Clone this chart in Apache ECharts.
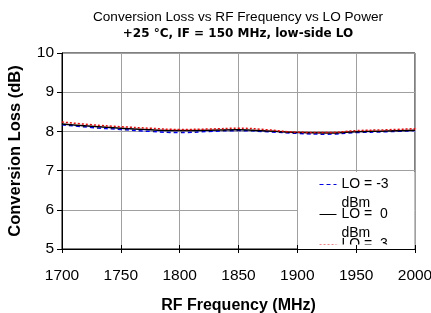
<!DOCTYPE html>
<html>
<head>
<meta charset="utf-8">
<script src="https://cdn.jsdelivr.net/npm/echarts@6/dist/echarts.min.js"></script>
<style>
  html, body { margin: 0; padding: 0; background: #fff; }
  #chart { width: 431px; height: 313px; }
</style>
</head>
<body>
<div id="chart"></div>
<script>
// RF frequency (MHz)
var FREQ = [1700, 1725, 1750, 1775, 1800, 1825, 1850, 1875, 1900, 1925, 1950, 1975, 2000];
// conversion loss (dB) per LO drive
var LO_M3 = [8.17, 8.10, 8.05, 8.00, 7.97, 8.00, 8.02, 7.99, 7.95, 7.93, 7.97, 7.99, 8.02];
var LO_0  = [8.19, 8.13, 8.08, 8.04, 8.02, 8.03, 8.04, 8.01, 7.97, 7.96, 7.99, 8.01, 8.03];
var LO_P3 = [8.24, 8.17, 8.12, 8.08, 8.05, 8.06, 8.08, 8.04, 7.98, 7.97, 8.02, 8.04, 8.07];
var NAMES = ['LO = -3\ndBm', 'LO =  0\ndBm', 'LO =  3\ndBm'];

var FONT = 'Liberation Sans, Arial, sans-serif';

function pairs(vals) {
    return FREQ.map(function (f, i) { return [f, vals[i]]; });
}

var xBase = { type: 'value', min: 1700, max: 2000, interval: 50, position: 'bottom' };

var myChart = echarts.init(document.getElementById('chart'));
var option = {
    backgroundColor: '#fff',
    animation: false,
    title: [{
        text: 'Conversion Loss vs RF Frequency vs LO Power',
        left: 233, top: 5, textAlign: 'center',
        textStyle: { fontFamily: FONT, fontSize: 13.6, fontWeight: 'normal', color: '#000' }
    }, {
        text: '+25 °C, IF = 150 MHz, low-side LO',
        left: 233, top: 23, textAlign: 'center',
        textStyle: { fontFamily: 'DejaVu Sans', fontSize: 12, fontWeight: 'bold', color: '#000' }
    }],
    grid: {
        left: 62, right: 16, top: 53, bottom: 64,
        outerBoundsMode: 'none',
        show: true, borderColor: '#000', borderWidth: 1
    },
    legend: {
        orient: 'vertical',
        left: 314, top: 151,
        itemWidth: 17, itemHeight: 2,
        itemGap: -27,
        data: NAMES,
        itemStyle: { opacity: 0 },
        lineStyle: { width: 1 },
        // leading blank line keeps the first text line level with the icon
        formatter: function (name) { return '\n' + name; },
        textStyle: {
            fontFamily: FONT, fontSize: 14, color: '#000', lineHeight: 19
        }
    },
    graphic: [{
        // legend box background (hides grid lines behind it)
        type: 'rect', z: 1,
        shape: { x: 298, y: 172, width: 116.5, height: 73 },
        style: { fill: '#fff' }
    }, {
        // the legend text runs past its box and is cut there
        type: 'rect', z: 5,
        shape: { x: 298, y: 244.5, width: 116.5, height: 50 },
        style: { fill: '#fff' }
    }],
    xAxis: [Object.assign({}, xBase, {
        // grid lines only
        axisLine: { show: false }, axisTick: { show: false }, axisLabel: { show: false },
        splitLine: { show: true, lineStyle: { color: '#a0a0a0', width: 1 } }
    }), Object.assign({}, xBase, {
        z: 10,
        name: 'RF Frequency (MHz)', nameLocation: 'middle', nameGap: 49,
        nameTextStyle: { fontFamily: FONT, fontSize: 16, fontWeight: 'bold', color: '#000' },
        axisLine: { show: true, lineStyle: { color: '#000', width: 1 } },
        axisTick: { show: true, length: 4, lineStyle: { color: '#000' } },
        axisLabel: {
            fontFamily: FONT, fontSize: 15.5, color: '#000', margin: 19,
            formatter: function (v) { return String(v); }
        },
        splitLine: { show: false }
    }), Object.assign({}, xBase, {
        // inner half of the crossing ticks
        z: 10,
        axisLine: { show: false }, axisLabel: { show: false },
        axisTick: { show: true, inside: true, length: 4, lineStyle: { color: '#000' } },
        splitLine: { show: false }
    })],
    yAxis: {
        type: 'value', min: 5, max: 10, interval: 1,
        name: 'Conversion Loss (dB)', nameLocation: 'middle', nameGap: 38,
        nameTextStyle: { fontFamily: FONT, fontSize: 16.5, fontWeight: 'bold', color: '#000' },
        axisLine: { show: true, lineStyle: { color: '#000', width: 1 } },
        axisTick: { show: true, length: 5, lineStyle: { color: '#000' } },
        axisLabel: { fontFamily: FONT, fontSize: 15.5, color: '#000', margin: 8 },
        splitLine: { show: true, lineStyle: { color: '#a0a0a0', width: 1 } }
    },
    series: [{
        name: NAMES[0], type: 'line', smooth: true, symbol: 'none',
        lineStyle: { color: '#0000ff', width: 1.5, type: [4, 3] },
        itemStyle: { color: '#0000ff' },
        data: pairs(LO_M3)
    }, {
        name: NAMES[1], type: 'line', smooth: true, symbol: 'none',
        lineStyle: { color: '#000', width: 1.5 },
        itemStyle: { color: '#000' },
        data: pairs(LO_0)
    }, {
        name: NAMES[2], type: 'line', smooth: true, symbol: 'none',
        lineStyle: { color: '#ff0000', width: 1.5, type: [2, 2] },
        itemStyle: { color: '#ff0000' },
        data: pairs(LO_P3)
    }]
};
myChart.setOption(option);
</script>
</body>
</html>
